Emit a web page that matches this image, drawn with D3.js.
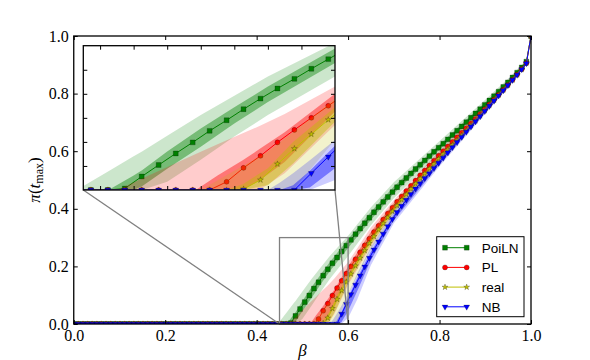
<!DOCTYPE html>
<html>
<head>
<meta charset="utf-8">
<script src="https://cdn.jsdelivr.net/npm/d3@7"></script>
<style>
body { margin: 0; background: #fff; }
svg { display: block; }
</style>
</head>
<body>
<div id="main"></div>
<script>
const ctx = {
    w: 590,
    h: 360,
    left: 73.75,
    right: 531,
    top: 36,
    bottom: 324,
    inLeft: 83.3,
    inRight: 335,
    inTop: 45.7,
    inBottom: 190,
    serif: "'Liberation Serif', 'DejaVu Serif', serif",
    sans: "'Liberation Sans', 'DejaVu Sans', sans-serif",
    tickLen: 4,
};

// beta grid (100 points between 0 and 1)
const beta = [
    0.0000, 0.0101, 0.0202, 0.0303, 0.0404, 0.0505, 0.0606, 0.0707, 0.0808, 0.0909,
    0.1010, 0.1111, 0.1212, 0.1313, 0.1414, 0.1515, 0.1616, 0.1717, 0.1818, 0.1919,
    0.2020, 0.2121, 0.2222, 0.2323, 0.2424, 0.2525, 0.2626, 0.2727, 0.2828, 0.2929,
    0.3030, 0.3131, 0.3232, 0.3333, 0.3434, 0.3535, 0.3636, 0.3737, 0.3838, 0.3939,
    0.4040, 0.4141, 0.4242, 0.4343, 0.4444, 0.4545, 0.4646, 0.4747, 0.4848, 0.4949,
    0.5051, 0.5152, 0.5253, 0.5354, 0.5455, 0.5556, 0.5657, 0.5758, 0.5859, 0.5960,
    0.6061, 0.6162, 0.6263, 0.6364, 0.6465, 0.6566, 0.6667, 0.6768, 0.6869, 0.6970,
    0.7071, 0.7172, 0.7273, 0.7374, 0.7475, 0.7576, 0.7677, 0.7778, 0.7879, 0.7980,
    0.8081, 0.8182, 0.8283, 0.8384, 0.8485, 0.8586, 0.8687, 0.8788, 0.8889, 0.8990,
    0.9091, 0.9192, 0.9293, 0.9394, 0.9495, 0.9596, 0.9697, 0.9798, 0.9899, 1.0000
];

const poilnValues = [
    0, 0, 0, 0, 0, 0, 0, 0, 0, 0,
    0, 0, 0, 0, 0, 0, 0, 0, 0, 0,
    0, 0, 0, 0, 0, 0, 0, 0, 0, 0,
    0, 0, 0, 0, 0, 0, 0, 0, 0, 0,
    0, 0, 0, 0, 0, 0, 0, 0.003, 0.028, 0.052,
    0.076, 0.099, 0.123, 0.145, 0.168, 0.190, 0.211, 0.231, 0.252, 0.272,
    0.292, 0.312, 0.331, 0.350, 0.369, 0.388, 0.406, 0.424, 0.441, 0.458,
    0.475, 0.491, 0.507, 0.523, 0.538, 0.553, 0.568, 0.583, 0.598, 0.612,
    0.626, 0.641, 0.656, 0.671, 0.686, 0.701, 0.716, 0.731, 0.746, 0.761,
    0.776, 0.791, 0.807, 0.823, 0.839, 0.856, 0.873, 0.891, 0.911, 1.000
];

const plValues = [
    0, 0, 0, 0, 0, 0, 0, 0, 0, 0,
    0, 0, 0, 0, 0, 0, 0, 0, 0, 0,
    0, 0, 0, 0, 0, 0, 0, 0, 0, 0,
    0, 0, 0, 0, 0, 0, 0, 0, 0, 0,
    0, 0, 0, 0, 0, 0, 0, 0, 0, 0,
    0, 0, 0, 0.017, 0.046, 0.071, 0.099, 0.125, 0.150, 0.175,
    0.200, 0.225, 0.249, 0.273, 0.296, 0.319, 0.341, 0.363, 0.384, 0.404,
    0.424, 0.443, 0.462, 0.480, 0.498, 0.516, 0.533, 0.550, 0.567, 0.584,
    0.600, 0.616, 0.632, 0.648, 0.664, 0.680, 0.696, 0.712, 0.728, 0.745,
    0.762, 0.779, 0.796, 0.813, 0.830, 0.848, 0.866, 0.885, 0.906, 1.000
];

const realValues = [
    0, 0, 0, 0, 0, 0, 0, 0, 0, 0,
    0, 0, 0, 0, 0, 0, 0, 0, 0, 0,
    0, 0, 0, 0, 0, 0, 0, 0, 0, 0,
    0, 0, 0, 0, 0, 0, 0, 0, 0, 0,
    0, 0, 0, 0, 0, 0, 0, 0, 0, 0,
    0, 0, 0, 0, 0.002, 0.021, 0.054, 0.086, 0.116, 0.146,
    0.174, 0.202, 0.229, 0.255, 0.280, 0.304, 0.327, 0.349, 0.370, 0.391,
    0.411, 0.431, 0.450, 0.469, 0.487, 0.505, 0.522, 0.539, 0.556, 0.573,
    0.590, 0.606, 0.622, 0.638, 0.655, 0.672, 0.689, 0.706, 0.723, 0.741,
    0.759, 0.777, 0.795, 0.812, 0.829, 0.847, 0.865, 0.884, 0.905, 1.000
];

const nbValues = [
    0, 0, 0, 0, 0, 0, 0, 0, 0, 0,
    0, 0, 0, 0, 0, 0, 0, 0, 0, 0,
    0, 0, 0, 0, 0, 0, 0, 0, 0, 0,
    0, 0, 0, 0, 0, 0, 0, 0, 0, 0,
    0, 0, 0, 0, 0, 0, 0, 0, 0, 0,
    0, 0, 0, 0, 0, 0, 0, 0, 0.035, 0.069,
    0.103, 0.136, 0.168, 0.199, 0.229, 0.258, 0.286, 0.313, 0.339, 0.364,
    0.388, 0.410, 0.431, 0.451, 0.470, 0.488, 0.506, 0.523, 0.541, 0.559,
    0.577, 0.595, 0.613, 0.631, 0.649, 0.667, 0.685, 0.703, 0.721, 0.739,
    0.757, 0.775, 0.793, 0.811, 0.829, 0.847, 0.865, 0.884, 0.905, 1.000
];

// bands: [beta, outer low, inner low, inner high, outer high]
const poilnBand = [
    [0.000, 0, 0, 0, 0],
    [0.446, 0, 0, 0, 0],
    [0.466, 0, 0, 0.002, 0.041],
    [0.480, 0, 0, 0.030, 0.070],
    [0.485, 0, 0.008, 0.041, 0.080],
    [0.500, 0.017, 0.044, 0.080, 0.113],
    [0.520, 0.063, 0.090, 0.128, 0.156],
    [0.540, 0.111, 0.138, 0.172, 0.196],
    [0.560, 0.156, 0.183, 0.215, 0.236],
    [0.600, 0.236, 0.264, 0.294, 0.306],
    [0.650, 0.343, 0.362, 0.390, 0.405],
    [0.700, 0.437, 0.453, 0.477, 0.492],
    [0.800, 0.593, 0.605, 0.623, 0.635],
    [0.900, 0.747, 0.755, 0.770, 0.779],
    [0.950, 0.828, 0.834, 0.846, 0.852],
    [0.990, 0.905, 0.908, 0.914, 0.917],
    [1.000, 1, 1, 1, 1]
];

const plBand = [
    [0.000, 0, 0, 0, 0],
    [0.470, 0, 0, 0, 0],
    [0.517, 0, 0, 0, 0.075],
    [0.530, 0, 0, 0.030, 0.095],
    [0.545, 0, 0, 0.062, 0.118],
    [0.555, 0, 0.020, 0.085, 0.133],
    [0.570, 0.035, 0.058, 0.120, 0.158],
    [0.600, 0.135, 0.163, 0.200, 0.215],
    [0.650, 0.270, 0.290, 0.320, 0.335],
    [0.700, 0.392, 0.402, 0.420, 0.430],
    [0.800, 0.572, 0.580, 0.594, 0.602],
    [0.900, 0.735, 0.741, 0.753, 0.759],
    [0.950, 0.823, 0.827, 0.835, 0.839],
    [0.990, 0.902, 0.904, 0.908, 0.910],
    [1.000, 1, 1, 1, 1]
];

const realBand = [
    [0.000, 0, 0, 0, 0],
    [0.520, 0, 0, 0, 0],
    [0.535, 0, 0, 0, 0.030],
    [0.545, 0, 0, 0.012, 0.050],
    [0.560, 0, 0.010, 0.045, 0.080],
    [0.575, 0, 0.055, 0.100, 0.120],
    [0.600, 0.104, 0.142, 0.172, 0.190],
    [0.650, 0.260, 0.277, 0.300, 0.315],
    [0.700, 0.375, 0.387, 0.407, 0.418],
    [0.800, 0.562, 0.569, 0.583, 0.590],
    [0.900, 0.732, 0.737, 0.749, 0.755],
    [0.950, 0.821, 0.825, 0.833, 0.837],
    [0.990, 0.901, 0.903, 0.907, 0.909],
    [1.000, 1, 1, 1, 1]
];

const nbBand = [
    [0.000, 0, 0, 0, 0],
    [0.560, 0, 0, 0, 0],
    [0.567, 0, 0, 0, 0.015],
    [0.575, 0, 0, 0.010, 0.035],
    [0.585, 0, 0.005, 0.040, 0.062],
    [0.600, 0.021, 0.045, 0.092, 0.104],
    [0.620, 0.085, 0.115, 0.160, 0.175],
    [0.650, 0.205, 0.222, 0.252, 0.268],
    [0.700, 0.350, 0.360, 0.380, 0.392],
    [0.800, 0.548, 0.555, 0.569, 0.576],
    [0.900, 0.729, 0.735, 0.747, 0.753],
    [0.950, 0.821, 0.825, 0.833, 0.837],
    [0.990, 0.901, 0.903, 0.907, 0.909],
    [1.000, 1, 1, 1, 1]
];

const seriesNames = ["PoiLN", "PL", "real", "NB"];
const seriesColors = ["#008000", "#ff0000", "#bfbf00", "#0000ff"];
const mainTicks = [0.0, 0.2, 0.4, 0.6, 0.8, 1.0];
const insetXTicks = [0.46, 0.48, 0.50, 0.52, 0.54, 0.56, 0.58];
const insetYTicks = [0.05, 0.10, 0.15, 0.20, 0.25];
const zoomX = [0.45, 0.60];
const zoomY = [0.0, 0.30];

const SERIES = [
    { name: seriesNames[0], values: poilnValues, band: poilnBand, color: seriesColors[0], symbol: d3.symbolSquare, size: 24, rot: 0 },
    { name: seriesNames[1], values: plValues, band: plBand, color: seriesColors[1], symbol: d3.symbolCircle, size: 20, rot: 0 },
    { name: seriesNames[2], values: realValues, band: realBand, color: seriesColors[2], symbol: d3.symbolStar, size: 11, rot: 0 },
    { name: seriesNames[3], values: nbValues, band: nbBand, color: seriesColors[3], symbol: d3.symbolTriangle, size: 15, rot: 180 },
];

function drawSeries(g, x, y) {
    let outer = d3.area().x((d) => x(d[0])).y0((d) => y(d[1])).y1((d) => y(d[4]));
    let inner = d3.area().x((d) => x(d[0])).y0((d) => y(d[2])).y1((d) => y(d[3]));
    let line = d3.line().x((d) => x(d[0])).y((d) => y(d[1]));
    SERIES.forEach(function (s) {
        g.append("path").datum(s.band).attr("d", outer)
            .attr("fill", s.color).attr("fill-opacity", 0.2);
        g.append("path").datum(s.band).attr("d", inner)
            .attr("fill", s.color).attr("fill-opacity", 0.42);
        let pts = beta.map((b, i) => [b, s.values[i]]);
        g.append("path").datum(pts).attr("d", line)
            .attr("fill", "none").attr("stroke", s.color).attr("stroke-width", 1);
        let sym = d3.symbol().type(s.symbol).size(s.size);
        g.selectAll(null).data(pts).enter().append("path")
            .attr("d", sym)
            .attr("transform", (d) => `translate(${x(d[0])},${y(d[1])}) rotate(${s.rot})`)
            .attr("fill", s.color)
            .attr("stroke", "#000").attr("stroke-width", 0.4).attr("stroke-opacity", 0.6);
    });
}

function inwardTicks(g, x, y, x0, x1, y0, y1, xt, yt, labels) {
    let fmt = labels ? d3.format(".1f") : () => "";
    let bx = g.append("g").attr("transform", `translate(0,${y0})`)
        .call(d3.axisBottom(x).tickValues(xt).tickSize(-ctx.tickLen).tickPadding(6).tickFormat(fmt));
    let tx = g.append("g").attr("transform", `translate(0,${y1})`)
        .call(d3.axisTop(x).tickValues(xt).tickSize(-ctx.tickLen).tickFormat(() => ""));
    let ly = g.append("g").attr("transform", `translate(${x0},0)`)
        .call(d3.axisLeft(y).tickValues(yt).tickSize(-ctx.tickLen).tickPadding(5).tickFormat(fmt));
    let ry = g.append("g").attr("transform", `translate(${x1},0)`)
        .call(d3.axisRight(y).tickValues(yt).tickSize(-ctx.tickLen).tickFormat(() => ""));
    [bx, tx, ly, ry].forEach(function (a) {
        a.select(".domain").remove();
        a.selectAll("line").attr("stroke", "#000").attr("stroke-width", 1);
        a.selectAll("text").attr("font-family", ctx.serif).attr("font-size", 16).attr("fill", "#000");
    });
}

function createViz() {
    let svgEl = d3.select("#main").append("svg")
        .attr("width", ctx.w).attr("height", ctx.h);
    let defs = svgEl.append("defs");
    defs.append("clipPath").attr("id", "clipMain").append("rect")
        .attr("x", ctx.left).attr("y", ctx.top)
        .attr("width", ctx.right - ctx.left).attr("height", ctx.bottom - ctx.top);
    defs.append("clipPath").attr("id", "clipInset").append("rect")
        .attr("x", ctx.inLeft).attr("y", ctx.inTop)
        .attr("width", ctx.inRight - ctx.inLeft).attr("height", ctx.inBottom - ctx.inTop);

    // main axes
    let x = d3.scaleLinear().domain([0, 1]).range([ctx.left, ctx.right]);
    let y = d3.scaleLinear().domain([0, 1]).range([ctx.bottom, ctx.top]);
    let mainG = svgEl.append("g").attr("clip-path", "url(#clipMain)");
    drawSeries(mainG, x, y);

    // zoom box and connector lines
    let zg = svgEl.append("g").attr("stroke", "#808080").attr("stroke-width", 1.3).attr("fill", "none");
    zg.append("rect")
        .attr("x", x(zoomX[0])).attr("y", y(zoomY[1]))
        .attr("width", x(zoomX[1]) - x(zoomX[0])).attr("height", y(zoomY[0]) - y(zoomY[1]));
    zg.append("line").attr("x1", ctx.inLeft).attr("y1", ctx.inBottom)
        .attr("x2", x(zoomX[0])).attr("y2", y(zoomY[0]));
    zg.append("line").attr("x1", ctx.inRight).attr("y1", ctx.inBottom)
        .attr("x2", x(zoomX[1])).attr("y2", y(zoomY[0]));

    inwardTicks(svgEl.append("g"), x, y, ctx.left, ctx.right, ctx.bottom, ctx.top, mainTicks, mainTicks, true);
    svgEl.append("rect")
        .attr("x", ctx.left).attr("y", ctx.top)
        .attr("width", ctx.right - ctx.left).attr("height", ctx.bottom - ctx.top)
        .attr("fill", "none").attr("stroke", "#000").attr("stroke-width", 1.3);

    // axis labels
    svgEl.append("text")
        .attr("x", x(0.5)).attr("y", 356)
        .attr("text-anchor", "middle")
        .attr("font-family", ctx.serif).attr("font-style", "italic").attr("font-size", 17)
        .text("β");
    let yl = svgEl.append("text")
        .attr("transform", `translate(40,${(ctx.top + ctx.bottom) / 2}) rotate(-90)`)
        .attr("text-anchor", "middle")
        .attr("font-family", ctx.serif).attr("font-size", 17);
    yl.append("tspan").attr("font-style", "italic").text("π");
    yl.append("tspan").text("(");
    yl.append("tspan").attr("font-style", "italic").text("t");
    yl.append("tspan").attr("font-size", 12).attr("dy", 3).text("max");
    yl.append("tspan").attr("dy", -3).text(")");

    // legend
    let lg = svgEl.append("g");
    lg.append("rect")
        .attr("x", 436.7).attr("y", 236.7).attr("width", 87.3).attr("height", 80)
        .attr("fill", "#fff").attr("stroke", "#000").attr("stroke-width", 1);
    SERIES.forEach(function (s, i) {
        let ry = 247.7 + i * 19.7;
        lg.append("line").attr("x1", 445).attr("x2", 466.7).attr("y1", ry).attr("y2", ry)
            .attr("stroke", s.color).attr("stroke-width", 1);
        let sym = d3.symbol().type(s.symbol).size(s.size);
        [445, 466.7].forEach(function (px) {
            lg.append("path").attr("d", sym)
                .attr("transform", `translate(${px},${ry}) rotate(${s.rot})`)
                .attr("fill", s.color)
                .attr("stroke", "#000").attr("stroke-width", 0.4).attr("stroke-opacity", 0.6);
        });
        lg.append("text").attr("x", 481.7).attr("y", ry + 5)
            .attr("font-family", ctx.sans).attr("font-size", 13.5)
            .text(s.name);
    });

    // inset axes
    let xi = d3.scaleLinear().domain(zoomX).range([ctx.inLeft, ctx.inRight]);
    let yi = d3.scaleLinear().domain(zoomY).range([ctx.inBottom, ctx.inTop]);
    svgEl.append("rect")
        .attr("x", ctx.inLeft).attr("y", ctx.inTop)
        .attr("width", ctx.inRight - ctx.inLeft).attr("height", ctx.inBottom - ctx.inTop)
        .attr("fill", "#fff");
    let insetG = svgEl.append("g").attr("clip-path", "url(#clipInset)");
    drawSeries(insetG, xi, yi);
    inwardTicks(svgEl.append("g"), xi, yi, ctx.inLeft, ctx.inRight, ctx.inBottom, ctx.inTop, insetXTicks, insetYTicks, false);
    svgEl.append("rect")
        .attr("x", ctx.inLeft).attr("y", ctx.inTop)
        .attr("width", ctx.inRight - ctx.inLeft).attr("height", ctx.inBottom - ctx.inTop)
        .attr("fill", "none").attr("stroke", "#000").attr("stroke-width", 1.3);
}

createViz();
</script>
</body>
</html>
